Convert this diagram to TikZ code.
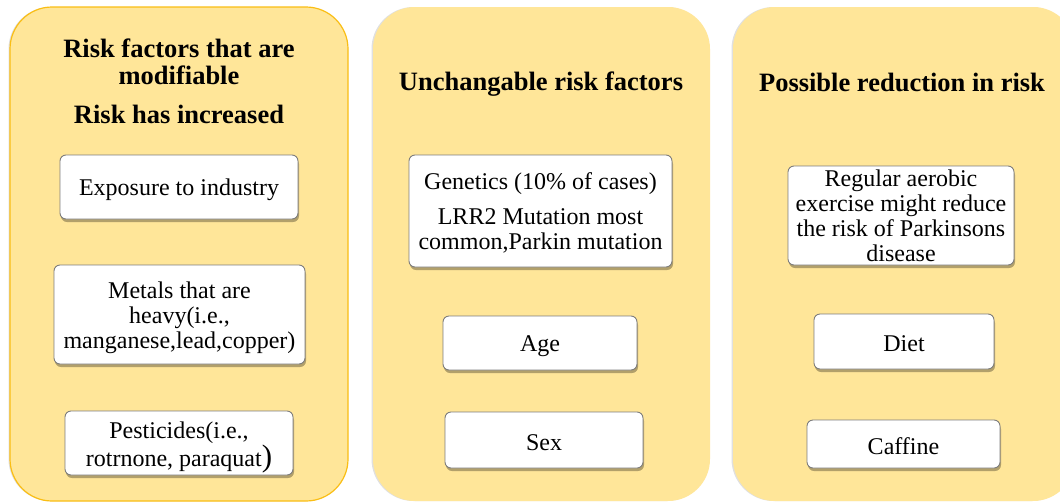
\documentclass[tikz,border=0pt]{standalone}
\usepackage{fontspec}
\setmainfont{Liberation Serif}
\usetikzlibrary{shadows}
\definecolor{panelfill}{RGB}{255,230,153}
\definecolor{panelborder}{RGB}{250,190,20}
\definecolor{boxborder}{RGB}{125,125,125}
\tikzset{
  panel/.style={rectangle, rounded corners=42pt, fill=panelfill, inner sep=0pt,
    drop shadow={shadow xshift=-1.5pt, shadow yshift=0pt, opacity=0.12, fill=black}},
  titletext/.style={font=\fontsize{26.5}{27}\selectfont\bfseries, align=center, inner sep=0pt},
  itembox/.style={rectangle, rounded corners=6pt, draw=boxborder, line width=0.9pt, fill=white,
    inner sep=0pt,
    drop shadow={shadow xshift=1pt, shadow yshift=-3pt, opacity=0.3, fill=black}},
  itemtext/.style={inner sep=0pt, font=\fontsize{24}{25}\selectfont, align=center},
}
\begin{document}
\begin{tikzpicture}[x=1pt,y=-1pt]
\useasboundingbox (0,0) rectangle (1060,501);
\fill[white] (0,0) rectangle (1060,501);
% panels
\node[panel, draw=panelborder, line width=1.2pt, minimum width=338pt, minimum height=494pt] (p1) at (179,254) {};
\node[panel, minimum width=337pt, minimum height=494pt] (p2) at (541.5,254) {};
\node[panel, minimum width=342pt, minimum height=494pt] (p3) at (904,254) {};
% titles
\node[titletext] (t1) at (179,62) {Risk factors that are\\modifiable};
\node[titletext] (t1b) at (179,114.5) {Risk has increased};
\node[titletext] (t2) at (541,84) {Unchangable risk factors};
\node[titletext] (t3) at (902,82) {Possible reduction in risk};
% panel 1 boxes
\node[itembox, minimum width=238pt, minimum height=64pt] (b11) at (179,187) {};
\node[itemtext] (b11t) at ([yshift=-3pt]b11.center) {Exposure to industry};
\node[itembox, minimum width=251pt, minimum height=99pt] (b12) at (179.5,314.5) {};
\node[itemtext] (b12t) at ([yshift=-3.5pt]b12.center) {Metals that are\\heavy(i.e.,\\manganese,lead,copper)};
\node[itembox, minimum width=228pt, minimum height=64pt] (b13) at (179,443) {};
\node[itemtext, font=\fontsize{24}{28}\selectfont] (b13t) at ([yshift=-4pt]b13.center) {Pesticides(i.e.,\\rotrnone, paraquat{\fontsize{31}{28}\selectfont)}};
% panel 2 boxes
\node[itembox, minimum width=263pt, minimum height=112pt] (b21) at (540.5,211) {};
\node[itemtext] (b21t) at ([yshift=-1.5pt]b21.center) {Genetics (10\% of cases)\\[10pt]LRR2 Mutation most\\common,Parkin mutation};
\node[itembox, minimum width=194pt, minimum height=54pt] (b22) at (540,343) {};
\node[itemtext] (b22t) at ([yshift=-3pt]b22.center) {Age};
\node[itembox, minimum width=198pt, minimum height=56pt] (b23) at (544,440) {};
\node[itemtext] (b23t) at ([yshift=-3pt]b23.center) {Sex};
% panel 3 boxes
\node[itembox, minimum width=226pt, minimum height=99pt] (b31) at (901,215.5) {};
\node[itemtext] (b31t) at ([yshift=-0.5pt]b31.center) {Regular aerobic\\exercise might reduce\\the risk of Parkinsons\\disease};
\node[itembox, minimum width=180pt, minimum height=55pt] (b32) at (904,341.5) {};
\node[itemtext] (b32t) at ([yshift=-2pt]b32.center) {Diet};
\node[itembox, minimum width=193pt, minimum height=48pt] (b33) at (903.5,444) {};
\node[itemtext] (b33t) at ([yshift=-2pt]b33.center) {Caffine};
\end{tikzpicture}
\end{document}
